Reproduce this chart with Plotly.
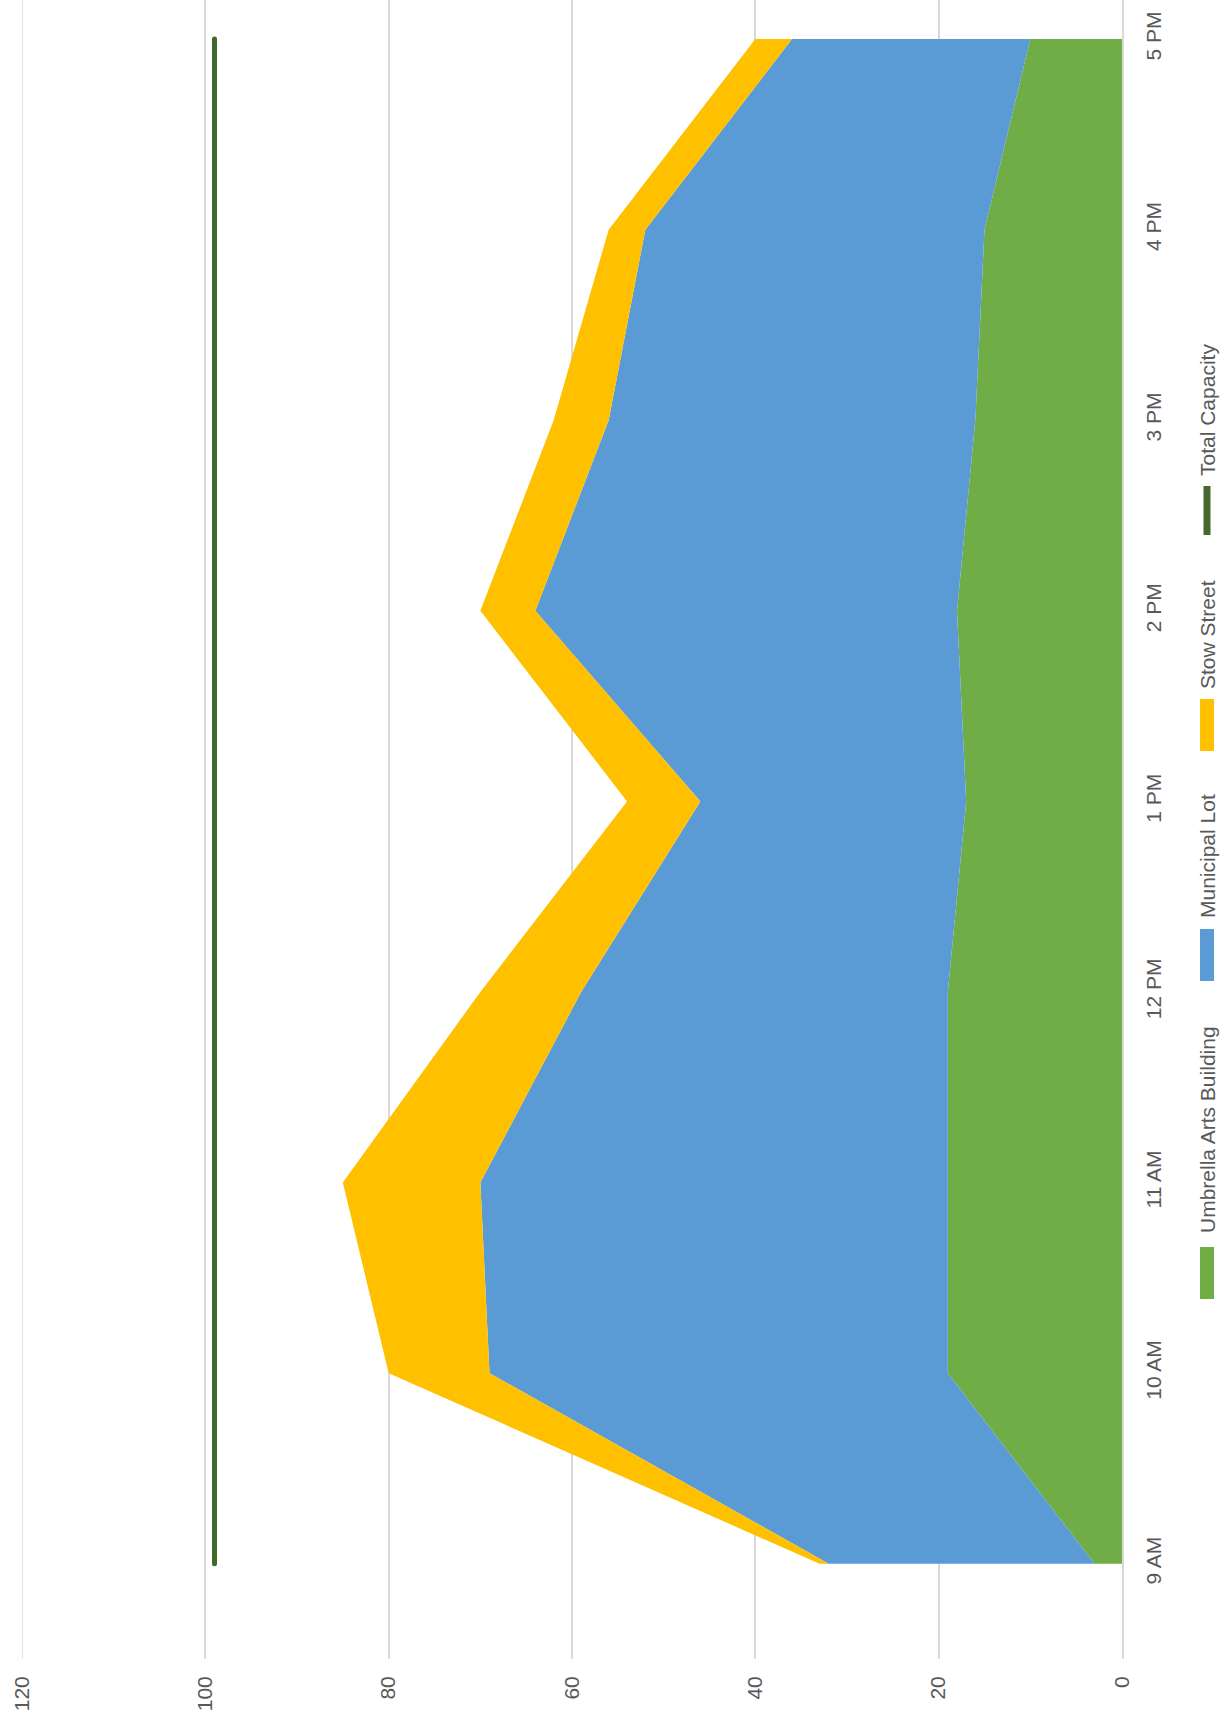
import plotly.graph_objects as go

categories = ["9 AM", "10 AM", "11 AM", "12 PM", "1 PM", "2 PM", "3 PM", "4 PM", "5 PM"]
umbrella_arts = [3, 19, 19, 19, 17, 18, 16, 15, 10]
municipal_lot = [29, 50, 51, 40, 29, 46, 40, 37, 26]
stow_street = [1, 11, 15, 11, 8, 6, 6, 4, 4]
total_capacity = [99, 99, 99, 99, 99, 99, 99, 99, 99]
value_ticks = [0, 20, 40, 60, 80, 100, 120]

FONT = "Liberation Sans, Arial, sans-serif"
TXT = "#595959"
GRID = "#D9D9D9"
W, H = 1225, 1733
ML, MR, MT, MB = 22, 103, 0, 74
PW, PH = W - ML - MR, H - MT - MB

fig = go.Figure()
series = [
    ("Umbrella Arts Building", umbrella_arts, "#70AD47"),
    ("Municipal Lot", municipal_lot, "#5B9BD5"),
    ("Stow Street", stow_street, "#FFC000"),
]
for name, vals, col in series:
    fig.add_trace(go.Scatter(
        x=vals, y=categories, name=name, stackgroup="one", orientation="h",
        mode="none", fillcolor=col, line=dict(width=0), showlegend=False))

fig.add_trace(go.Scatter(
    x=total_capacity, y=categories, name="Total Capacity", mode="lines",
    line=dict(color="#43682B", width=5), showlegend=False))

fig.update_layout(
    width=W, height=H,
    margin=dict(l=ML, r=MR, t=MT, b=MB, autoexpand=False),
    plot_bgcolor="white", paper_bgcolor="white",
    font=dict(family=FONT, size=21, color=TXT),
    showlegend=False,
)
fig.update_xaxes(
    range=[120, 0], tickvals=value_ticks, ticktext=[str(v) for v in value_ticks],
    tickangle=-90, showgrid=True, gridcolor=GRID, gridwidth=1.5,
    zeroline=False, showline=False, ticks="", ticklabelstandoff=12,
    automargin=False,
    tickfont=dict(family=FONT, size=21, color=TXT))
fig.update_yaxes(
    type="category", categoryorder="array", categoryarray=categories,
    range=[-0.5, 8.205], side="right", tickangle=-90, showgrid=False,
    showline=True, linecolor=GRID, linewidth=2, ticks="",
    ticklabelstandoff=12, automargin=False,
    tickfont=dict(family=FONT, size=21, color=TXT))

# edge gridline at the axis maximum (plotly skips gridlines on the plot boundary)
fig.add_shape(type="line", xref="x", yref="paper", x0=max(value_ticks), x1=max(value_ticks),
              y0=0, y1=1, line=dict(color=GRID, width=1.5), layer="below")

def px(xp):
    return (xp - ML) / PW

def py(yp):
    return (H - MB - yp) / PH

legend_items = [
    ("Umbrella Arts Building", "#70AD47", "rect", 1247, 1299, 1130),
    ("Municipal Lot", "#5B9BD5", "rect", 929, 981, 856),
    ("Stow Street", "#FFC000", "rect", 699, 751, 635),
    ("Total Capacity", "#43682B", "line", 483, 538, 410),
]
for label, col, kind, y0, y1, yc in legend_items:
    if kind == "rect":
        fig.add_shape(type="rect", xref="paper", yref="paper",
                      x0=px(1200), x1=px(1214), y0=py(y1), y1=py(y0),
                      fillcolor=col, line=dict(width=0))
    else:
        fig.add_shape(type="line", xref="paper", yref="paper",
                      x0=px(1207), x1=px(1207), y0=py(y1 - 3), y1=py(y0 + 3),
                      line=dict(color=col, width=7))
    fig.add_annotation(text=label, xref="paper", yref="paper",
                       x=px(1207), y=py(yc), textangle=-90, showarrow=False,
                       xanchor="center", yanchor="middle",
                       font=dict(family=FONT, size=21, color=TXT))

fig.write_html("out.html", config={"displayModeBar": False},
               post_script="document.body.style.margin='0';document.body.style.overflow='hidden';"
                           "document.querySelectorAll('.scatterlayer .js-line').forEach(function(p){p.style.strokeLinecap='round';});")
